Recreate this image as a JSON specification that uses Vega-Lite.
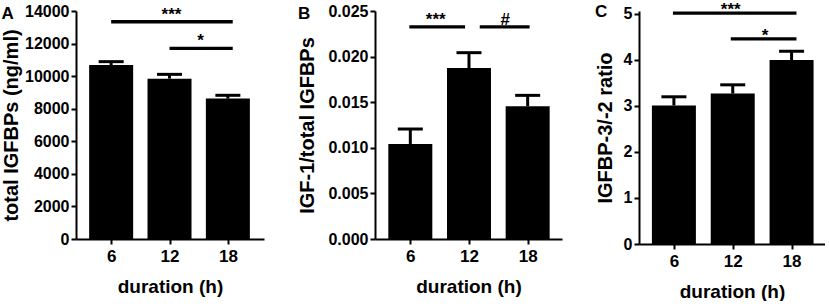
{
  "$schema": "https://vega.github.io/schema/vega-lite/v6.json",
  "padding": {"left": 1, "top": 1, "right": 0, "bottom": 0},
  "spacing": 33,
  "background": "white",
  "config": {
    "view": {"stroke": null},
    "font": "Liberation Sans",
    "axis": {
      "labelFont": "Liberation Sans", "labelFontWeight": "bold", "labelFontSize": 16, "labelColor": "black",
      "titleFont": "Liberation Sans", "titleFontWeight": "bold", "titleFontSize": 20, "titleColor": "black",
      "domainColor": "black", "domainWidth": 2, "tickColor": "black", "tickWidth": 2, "tickSize": 5,
      "grid": false, "labelPadding": 2, "labelOverlap": false, "tickCount": 10
    },
    "axisX": {"labelPadding": 4, "titlePadding": 13, "labelFlush": false, "labelFontSize": 17, "titleFontSize": 19},
    "title": {"font": "Liberation Sans", "fontWeight": "bold", "fontSize": 17, "color": "black", "anchor": "start", "frame": "bounds", "offset": -20}
  },
  "datasets": {
    "a": [
      {"duration": 6, "mean": 10680, "upper": 10890},
      {"duration": 12, "mean": 9847, "upper": 10110},
      {"duration": 18, "mean": 8620, "upper": 8823}
    ],
    "b": [
      {"duration": 6, "mean": 0.01042, "upper": 0.01206},
      {"duration": 12, "mean": 0.01875, "upper": 0.02043},
      {"duration": 18, "mean": 0.01455, "upper": 0.01575}
    ],
    "c": [
      {"duration": 6, "mean": 3.01, "upper": 3.2},
      {"duration": 12, "mean": 3.27, "upper": 3.46},
      {"duration": 18, "mean": 4.0, "upper": 4.19}
    ],
    "sigA": [
      {"from": 6, "to": 18.5, "level": 13340, "mid": 12.2, "label": "***"},
      {"from": 12, "to": 18.5, "level": 11700, "mid": 15.2, "label": "*"}
    ],
    "sigB": [
      {"from": 5.9, "to": 11.6, "level": 0.02325, "mid": 8.6, "label": "***"},
      {"from": 13.1, "to": 18.2, "level": 0.02325, "mid": 15.7, "label": "#"}
    ],
    "sigC": [
      {"from": 5.9, "to": 18.5, "level": 5.02, "mid": 11.8, "label": "***"},
      {"from": 11.8, "to": 18.5, "level": 4.46, "mid": 15.3, "label": "*"}
    ]
  },
  "hconcat": [
    {
      "width": 188, "height": 228,
      "title": {"text": "A"},
      "layer": [
        {
          "data": {"name": "a"},
          "mark": {"type": "bar", "color": "black", "width": 44, "orient": "vertical"},
          "encoding": {
            "x": {"field": "duration", "type": "quantitative", "scale": {"domain": [2.9, 21.2], "nice": false, "zero": false},
                  "axis": {"values": [6, 12, 18], "title": "duration (h)"}},
            "y": {"field": "mean", "type": "quantitative", "scale": {"domain": [0, 14000], "nice": false},
                  "axis": {"values": [0, 2000, 4000, 6000, 8000, 10000, 12000, 14000], "tickCount": 10, "format": "d", "labelOverlap": false, "title": "total IGFBPs (ng/ml)", "titlePadding": 3}}
          }
        },
        {
          "data": {"name": "a"},
          "mark": {"type": "rule", "color": "black", "strokeWidth": 3},
          "encoding": {
            "x": {"field": "duration", "type": "quantitative"},
            "y": {"field": "mean", "type": "quantitative"},
            "y2": {"field": "upper"}
          }
        },
        {
          "data": {"name": "a"},
          "mark": {"type": "tick", "color": "black", "opacity": 1, "orient": "horizontal", "size": 25, "thickness": 3},
          "encoding": {
            "x": {"field": "duration", "type": "quantitative"},
            "y": {"field": "upper", "type": "quantitative"}
          }
        },
        {
          "data": {"name": "sigA"},
          "mark": {"type": "rule", "color": "black", "strokeWidth": 3.3},
          "encoding": {
            "x": {"field": "from", "type": "quantitative"},
            "x2": {"field": "to"},
            "y": {"field": "level", "type": "quantitative"}
          }
        },
        {
          "data": {"name": "sigA"},
          "mark": {"type": "text", "color": "black", "font": "Liberation Sans", "fontWeight": "bold", "fontSize": 17, "baseline": "alphabetic", "dy": -2},
          "encoding": {
            "x": {"field": "mid", "type": "quantitative"},
            "y": {"field": "level", "type": "quantitative"},
            "text": {"field": "label"}
          }
        }
      ]
    },
    {
      "width": 187, "height": 228,
      "title": {"text": "B"},
      "layer": [
        {
          "data": {"name": "b"},
          "mark": {"type": "bar", "color": "black", "width": 44, "orient": "vertical"},
          "encoding": {
            "x": {"field": "duration", "type": "quantitative", "scale": {"domain": [2.9, 21], "nice": false, "zero": false},
                  "axis": {"values": [6, 12, 18], "title": "duration (h)"}},
            "y": {"field": "mean", "type": "quantitative", "scale": {"domain": [0, 0.025], "nice": false},
                  "axis": {"values": [0, 0.005, 0.01, 0.015, 0.02, 0.025], "tickCount": 10, "format": ".3f", "labelOverlap": false, "title": "IGF-1/total IGFBPs", "titlePadding": 10}}
          }
        },
        {
          "data": {"name": "b"},
          "mark": {"type": "rule", "color": "black", "strokeWidth": 3},
          "encoding": {
            "x": {"field": "duration", "type": "quantitative"},
            "y": {"field": "mean", "type": "quantitative"},
            "y2": {"field": "upper"}
          }
        },
        {
          "data": {"name": "b"},
          "mark": {"type": "tick", "color": "black", "opacity": 1, "orient": "horizontal", "size": 25, "thickness": 3},
          "encoding": {
            "x": {"field": "duration", "type": "quantitative"},
            "y": {"field": "upper", "type": "quantitative"}
          }
        },
        {
          "data": {"name": "sigB"},
          "mark": {"type": "rule", "color": "black", "strokeWidth": 3.3},
          "encoding": {
            "x": {"field": "from", "type": "quantitative"},
            "x2": {"field": "to"},
            "y": {"field": "level", "type": "quantitative"}
          }
        },
        {
          "data": {"name": "sigB"},
          "mark": {"type": "text", "color": "black", "font": "Liberation Sans", "fontWeight": "bold", "fontSize": 17, "baseline": "alphabetic", "dy": -2},
          "encoding": {
            "x": {"field": "mid", "type": "quantitative"},
            "y": {"field": "level", "type": "quantitative"},
            "text": {"field": "label"}
          }
        }
      ]
    },
    {
      "width": 186, "height": 233,
      "title": {"text": "C"},
      "layer": [
        {
          "data": {"name": "c"},
          "mark": {"type": "bar", "color": "black", "width": 44, "orient": "vertical"},
          "encoding": {
            "x": {"field": "duration", "type": "quantitative", "scale": {"domain": [2.95, 20.9], "nice": false, "zero": false},
                  "axis": {"values": [6, 12, 18], "title": "duration (h)"}},
            "y": {"field": "mean", "type": "quantitative", "scale": {"domain": [0, 5.065], "nice": false},
                  "axis": {"values": [0, 1, 2, 3, 4, 5], "tickCount": 10, "format": "d", "labelOverlap": false, "title": "IGFBP-3/-2 ratio", "titlePadding": 8}}
          }
        },
        {
          "data": {"name": "c"},
          "mark": {"type": "rule", "color": "black", "strokeWidth": 3},
          "encoding": {
            "x": {"field": "duration", "type": "quantitative"},
            "y": {"field": "mean", "type": "quantitative"},
            "y2": {"field": "upper"}
          }
        },
        {
          "data": {"name": "c"},
          "mark": {"type": "tick", "color": "black", "opacity": 1, "orient": "horizontal", "size": 25, "thickness": 3},
          "encoding": {
            "x": {"field": "duration", "type": "quantitative"},
            "y": {"field": "upper", "type": "quantitative"}
          }
        },
        {
          "data": {"name": "sigC"},
          "mark": {"type": "rule", "color": "black", "strokeWidth": 3.3},
          "encoding": {
            "x": {"field": "from", "type": "quantitative"},
            "x2": {"field": "to"},
            "y": {"field": "level", "type": "quantitative"}
          }
        },
        {
          "data": {"name": "sigC"},
          "mark": {"type": "text", "color": "black", "font": "Liberation Sans", "fontWeight": "bold", "fontSize": 17, "baseline": "alphabetic", "dy": 2},
          "encoding": {
            "x": {"field": "mid", "type": "quantitative"},
            "y": {"field": "level", "type": "quantitative"},
            "text": {"field": "label"}
          }
        }
      ]
    }
  ]
}
